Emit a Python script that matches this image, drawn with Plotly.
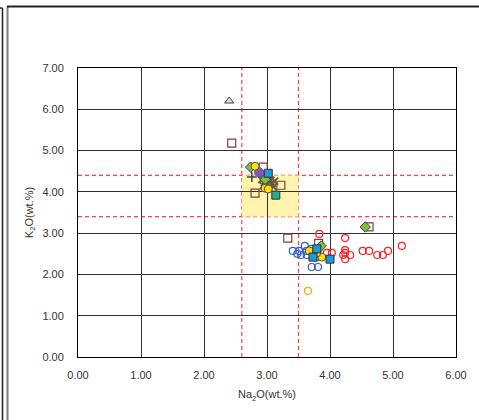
import plotly.graph_objects as go

# ---- data (Na2O, K2O wt.%) ----
tri_x = [2.40]
tri_y = [6.20]

brsq_x = [2.44, 2.81, 2.94, 3.22, 3.33, 4.62, 3.82]
brsq_y = [5.18, 3.97, 4.60, 4.16, 2.88, 3.15, 2.75]

grdia_x = [2.74, 4.56, 3.86, 2.97]
grdia_y = [4.60, 3.15, 2.69, 4.30]

blue_open_x = [3.41, 3.51, 3.60, 3.63, 3.54, 3.63, 3.71, 3.81, 3.70, 3.48]
blue_open_y = [2.57, 2.57, 2.69, 2.57, 2.47, 2.47, 2.18, 2.18, 2.62, 2.50]

red_open_x = [3.83, 4.24, 4.24, 4.24, 4.21, 4.32, 4.24, 4.03, 3.95, 4.52, 4.62, 4.75, 4.84, 4.92, 5.14]
red_open_y = [2.98, 2.88, 2.59, 2.52, 2.47, 2.47, 2.37, 2.52, 2.52, 2.57, 2.57, 2.47, 2.47, 2.57, 2.69]

orange_open_x = [3.65]
orange_open_y = [1.60]

yellow_x = [2.81, 2.97, 3.02, 3.67, 3.76, 3.81, 3.87, 3.79]
yellow_y = [4.62, 4.09, 4.07, 2.57, 2.42, 2.42, 2.42, 2.52]

bluesq_x = [3.02, 3.79, 3.73, 4.00]
bluesq_y = [4.45, 2.62, 2.42, 2.37]

tealsq_x = [3.14]
tealsq_y = [3.92]

purple_x = [2.87, 2.92, 2.96, 3.00]
purple_y = [4.48, 4.41, 4.33, 4.38]

cross_x = [2.92, 2.96, 3.00, 3.04, 3.08, 3.10, 2.98, 3.02, 3.06, 2.94, 3.12]
cross_y = [4.30, 4.22, 4.18, 4.25, 4.20, 4.12, 4.12, 4.33, 4.28, 4.15, 4.26]

plus_x = [2.76]
plus_y = [4.36]

x_ticks = [0, 1, 2, 3, 4, 5, 6]
y_ticks = [0, 1, 2, 3, 4, 5, 6, 7]

ref_na = [2.6, 3.5]
ref_k = [3.4, 4.4]

fig = go.Figure()

# yellow reference box
fig.add_shape(type="rect", xref="x", yref="y", x0=ref_na[0], x1=ref_na[1], y0=ref_k[0], y1=ref_k[1],
              fillcolor="rgba(255,242,160,0.85)", line=dict(width=0), layer="below")
for v in ref_na:
    fig.add_shape(type="line", xref="x", yref="paper", x0=v, x1=v, y0=0, y1=1,
                  line=dict(color="#FF4040", width=1.2, dash="4px,3px"), layer="between")
for v in ref_k:
    fig.add_shape(type="line", xref="paper", yref="y", x0=0, x1=1, y0=v, y1=v,
                  line=dict(color="#FF4040", width=1.2, dash="4px,3px"), layer="between")


def add(x, y, symbol, size, fill, line_color, lw=1):
    fig.add_trace(go.Scatter(x=x, y=y, mode="markers", showlegend=False,
                             marker=dict(symbol=symbol, size=size, color=fill,
                                         line=dict(color=line_color, width=lw))))


add(red_open_x, red_open_y, "circle-open", 7, "#FF2020", "#FF2020", 1.2)
add(blue_open_x, blue_open_y, "circle-open", 7, "#3060D0", "#3060D0", 1.2)
add(orange_open_x, orange_open_y, "circle-open", 7, "#FFA500", "#FFA500", 1.2)
add(tri_x, tri_y, "triangle-up", 8, "#E0E0E0", "#404040", 1)
add(brsq_x, brsq_y, "square", 8, "rgba(255,255,255,0)", "#8B3A3A", 1.2)
add(purple_x, purple_y, "circle", 9, "#7E5BB5", "#7E5BB5", 1)
add(cross_x, cross_y, "x-thin", 7, "#6B5A3A", "#6B5A3A", 2)
add(plus_x, plus_y, "cross-thin", 7, "#404040", "#404040", 1.5)
add(grdia_x, grdia_y, "diamond", 8, "#7CC040", "#404040", 1)
add(yellow_x, yellow_y, "circle", 8, "#FFE000", "#505050", 1)
add(bluesq_x, bluesq_y, "square", 8, "#1E9BD7", "#303030", 1)
add(tealsq_x, tealsq_y, "square", 8, "#2EA88A", "#303030", 1)

# outer frame decoration (pixel -> paper)
L, R, T, B = 78, 456, 68, 357
def px(x):
    return (x - L) / (R - L)
def py(y):
    return (B - y) / (B - T)

frame = [
    (2.5, 8, 2.5, 420, "#202020", 1.5),
    (0, 8, 2.5, 8, "#202020", 1.5),
    (7.5, 6.5, 7.5, 420, "#808080", 2),
    (7, 6.5, 479, 6.5, "#202020", 2),
]
for x0, y0, x1, y1, c, w in frame:
    fig.add_shape(type="line", xref="paper", yref="paper", x0=px(x0), x1=px(x1), y0=py(y0), y1=py(y1),
                  line=dict(color=c, width=w))

axis_common = dict(showgrid=True, gridcolor="#303030", gridwidth=1, zeroline=False,
                   showline=True, linecolor="#000000", linewidth=1, mirror=True, automargin=True,
                   ticks="", tickformat=".2f", tickfont=dict(size=11, color="#333333",
                                                              family="Liberation Sans, Arial"))

fig.update_xaxes(range=[0, 6], tickvals=x_ticks, ticklabelstandoff=8,
                 title=dict(text="Na<sub>2</sub>O(wt.%)", font=dict(size=11, color="#333333"), standoff=10),
                 **axis_common)
fig.update_yaxes(range=[0, 7], tickvals=y_ticks, ticklabelstandoff=11,
                 title=dict(text="K<sub>2</sub>O(wt.%)", font=dict(size=11, color="#333333"), standoff=6),
                 **axis_common)

fig.update_layout(width=479, height=420, margin=dict(l=L, r=479 - R, t=T, b=420 - B),
                  paper_bgcolor="white", plot_bgcolor="white",
                  font=dict(family="Liberation Sans, Arial", color="#333333"))

fig.write_html("out.html", config={"displayModeBar": False},
               post_script="document.body.style.margin='0';")
